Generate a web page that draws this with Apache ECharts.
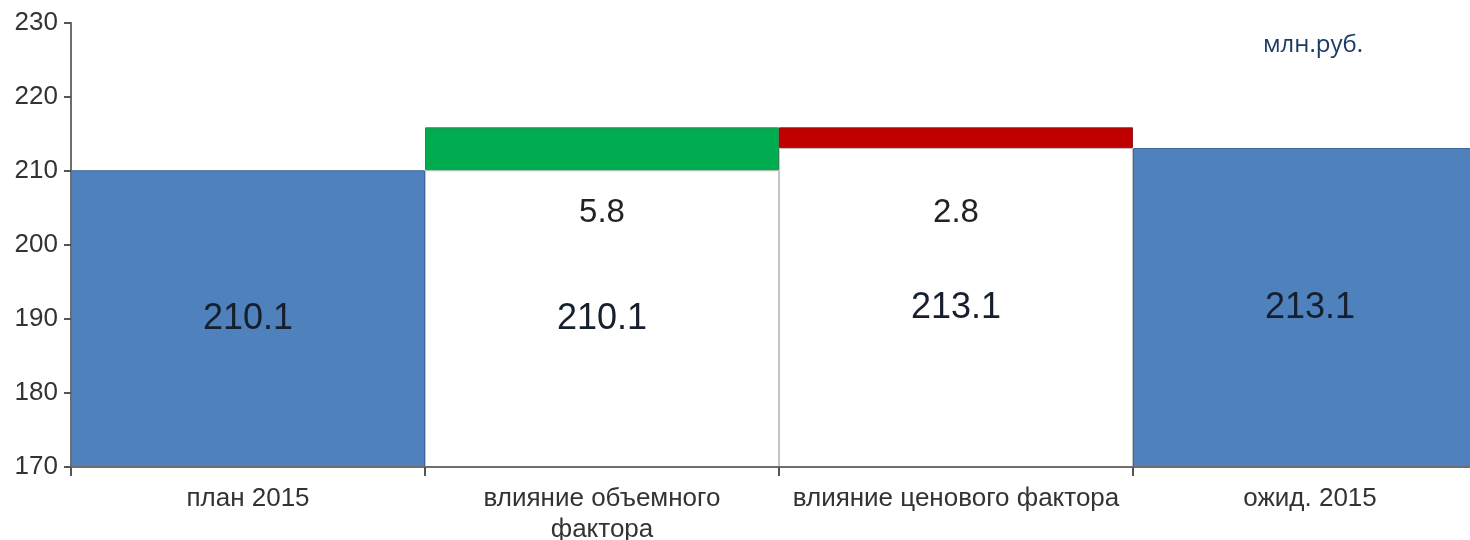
<!DOCTYPE html>
<html>
<head>
<meta charset="utf-8">
<script src="https://cdn.jsdelivr.net/npm/echarts@6/dist/echarts.min.js"></script>
<style>
    html, body { margin: 0; padding: 0; background: #fff; overflow: hidden; }
    #chart { width: 1470px; height: 540px; }
</style>
</head>
<body>
<div id="chart"></div>
<script>
// категории и значения факторного анализа
const categories = ["план 2015", "влияние объемного\nфактора", "влияние ценового фактора", "ожид. 2015"];
const baseValues = [210.1, 210.1, 213.1, 213.1];
const deltaValues = [null, 5.8, 2.8, null];
const deltaKinds = [null, "up", "down", null];
const yTicks = { min: 170, max: 230, step: 10 };

const chart = echarts.init(document.getElementById("chart"));

// итоговые столбцы синие, промежуточные — белые с рамкой
const baseData = baseValues.map((v, i) => {
    const total = deltaKinds[i] === null;
    return {
        value: v,
        itemStyle: total
            ? { color: "#4f81bd", borderColor: "#3c679a", borderWidth: 1 }
            : { color: "#ffffff", borderColor: "#c4c4c4", borderWidth: 1 },
    };
});

const deltaData = deltaValues.map((v, i) => {
    if (v === null) return "-";
    const up = deltaKinds[i] === "up";
    return {
        value: v,
        itemStyle: up
            ? { color: "#00ac50", borderColor: "#2b8a4f", borderWidth: 1 }
            : { color: "#c00000", borderColor: "#8e1a1a", borderWidth: 1 },
    };
});

chart.setOption({
    animation: false,
    textStyle: { fontFamily: "Liberation Sans, Arial, sans-serif" },
    // последняя колонка уходит за правый край, как в исходнике
    grid: { left: 71, width: 1416, top: 23, bottom: 73, outerBoundsMode: "none", containLabel: false },
    graphic: [{
        type: "text",
        left: 1263,
        top: 33,
        style: {
            text: "млн.руб.",
            fill: "#1b3a66",
            font: "24px 'Open Sans', sans-serif",
        },
    }],
    xAxis: {
        type: "category",
        data: categories,
        axisLine: { lineStyle: { color: "#6e6e6e", width: 2 } },
        axisTick: { show: true, interval: 0, length: 9, lineStyle: { color: "#555", width: 2 } },
        axisLabel: {
            interval: 0,
            color: "#333",
            fontSize: 26,
            margin: 16,
            lineHeight: 31,
        },
        z: 10,
    },
    yAxis: {
        type: "value",
        min: yTicks.min,
        max: yTicks.max,
        interval: yTicks.step,
        axisLine: { show: true, lineStyle: { color: "#6e6e6e", width: 2 } },
        axisTick: { show: true, length: 7, lineStyle: { color: "#555", width: 2 } },
        axisLabel: { color: "#333", fontSize: 26, margin: 13 },
        splitLine: { show: false },
        z: 10,
    },
    series: [
        {
            name: "base",
            type: "bar",
            stack: "total",
            barCategoryGap: "0%",
            data: baseData,
            label: {
                show: true,
                position: "inside",
                color: "#151f2e",
                fontSize: 36,
                formatter: (p) => p.value.toFixed(1),
            },
        },
        {
            name: "delta",
            type: "bar",
            stack: "total",
            barCategoryGap: "0%",
            data: deltaData,
            label: {
                show: true,
                position: ["50%", 86],
                align: "center",
                verticalAlign: "middle",
                color: "#222",
                fontSize: 33,
                formatter: (p) => p.value.toFixed(1),
            },
        },
    ],
});
</script>
</body>
</html>
